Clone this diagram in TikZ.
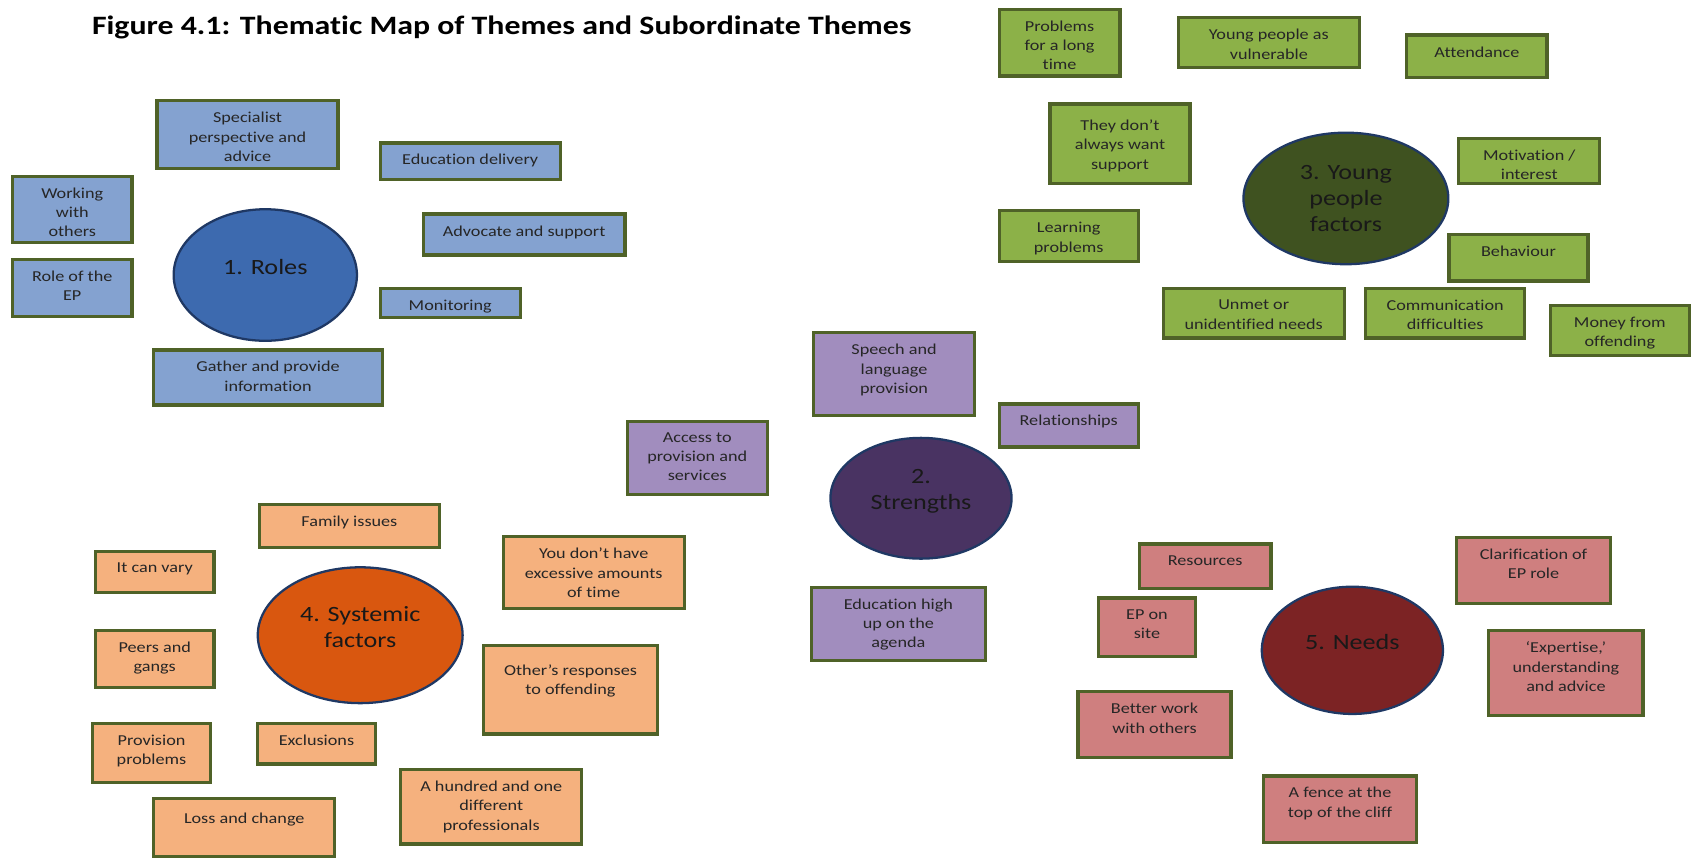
\documentclass[tikz,border=0pt]{standalone}
\usepackage{fontspec}
\setmainfont{Carlito}[FakeStretch=1.2, Ligatures=NoCommon]
\usetikzlibrary{shapes.geometric}

\definecolor{edge}{RGB}{79,98,40}
\definecolor{rim}{RGB}{31,56,100}
\definecolor{bluebox}{RGB}{132,162,208}
\definecolor{bluetheme}{RGB}{61,106,175}
\definecolor{greenbox}{RGB}{140,177,72}
\definecolor{greentheme}{RGB}{63,82,32}
\definecolor{purplebox}{RGB}{161,141,190}
\definecolor{purpletheme}{RGB}{73,51,98}
\definecolor{orangebox}{RGB}{245,177,126}
\definecolor{orangetheme}{RGB}{217,87,15}
\definecolor{redbox}{RGB}{207,127,127}
\definecolor{redtheme}{RGB}{124,35,36}

\tikzset{
  subbox/.style={draw=edge, line width=1.7pt, inner sep=0pt},
  sublbl/.style={anchor=north, align=center, inner sep=6.7pt, text=black!85, font=\fontsize{8}{10.2}\selectfont},
  theme/.style={ellipse, draw=rim, line width=1.2pt, inner sep=0pt, align=center, text=black!90, font=\fontsize{11.5}{13.9}\selectfont},
}

\begin{document}
\begin{tikzpicture}[x=0.02cm, y=-0.02cm]

	\useasboundingbox (0,0) rectangle (1568,796);

	\node[anchor=west, inner sep=0pt, font=\fontsize{14}{16}\selectfont\bfseries] (title) at (85,25) {Figure 4.1: Thematic Map of Themes and Subordinate Themes};

	% 1. Roles
	\node[theme, fill=bluetheme, minimum width=3.40cm, minimum height=2.44cm, text depth=9pt] (roles) at (246,255) {1. Roles};
	\node[subbox, fill=bluebox, minimum width=3.36cm, minimum height=1.26cm, label={[sublbl]north:{Specialist\\perspective and\\advice}}] (specialist) at (229.5,125) {};
	\node[subbox, fill=bluebox, minimum width=3.34cm, minimum height=0.68cm, label={[sublbl]north:{Education delivery}}] (edudelivery) at (436,149.5) {};
	\node[subbox, fill=bluebox, minimum width=2.22cm, minimum height=1.22cm, label={[sublbl]north:{Working\\with\\others}}] (working) at (67,194) {};
	\node[subbox, fill=bluebox, minimum width=3.74cm, minimum height=0.76cm, label={[sublbl]north:{Advocate and support}}] (advocate) at (486,217.5) {};
	\node[subbox, fill=bluebox, minimum width=2.22cm, minimum height=1.06cm, label={[sublbl]north:{Role of the\\EP}}] (roleep) at (67,267) {};
	\node[subbox, fill=bluebox, minimum width=2.60cm, minimum height=0.54cm, label={[sublbl]north:{Monitoring}}] (monitoring) at (417.5,281) {};
	\node[subbox, fill=bluebox, minimum width=4.24cm, minimum height=1.02cm, label={[sublbl]north:{Gather and provide\\information}}] (gather) at (248.5,350) {};

	% 3. Young people factors
	\node[theme, fill=greentheme, minimum width=3.80cm, minimum height=2.44cm] (young) at (1248,184) {3. Young\\people\\factors};
	\node[subbox, fill=greenbox, minimum width=2.24cm, minimum height=1.24cm, label={[sublbl]north:{Problems\\for a long\\time}}] (longtime) at (982.5,39.5) {};
	\node[subbox, fill=greenbox, minimum width=3.36cm, minimum height=0.92cm, label={[sublbl]north:{Young people as\\vulnerable}}] (vulnerable) at (1176.5,39.5) {};
	\node[subbox, fill=greenbox, minimum width=2.60cm, minimum height=0.78cm, label={[sublbl]north:{Attendance}}] (attendance) at (1369.5,52) {};
	\node[subbox, fill=greenbox, minimum width=2.60cm, minimum height=1.48cm, label={[sublbl, yshift=-2.3pt]north:{They don’t\\always want\\support}}] (dontwant) at (1038.5,133.5) {};
	\node[subbox, fill=greenbox, minimum width=2.62cm, minimum height=0.84cm, label={[sublbl]north:{Motivation /\\interest}}] (motivation) at (1418,149.5) {};
	\node[subbox, fill=greenbox, minimum width=2.58cm, minimum height=0.94cm, label={[sublbl]north:{Learning\\problems}}] (learning) at (991,219) {};
	\node[subbox, fill=greenbox, minimum width=2.58cm, minimum height=0.86cm, label={[sublbl]north:{Behaviour}}] (behaviour) at (1408,239) {};
	\node[subbox, fill=greenbox, minimum width=3.36cm, minimum height=0.92cm, label={[sublbl]north:{Unmet or\\unidentified needs}}] (unmet) at (1162.5,290.5) {};
	\node[subbox, fill=greenbox, minimum width=2.94cm, minimum height=0.92cm, label={[sublbl]north:{Communication\\difficulties}}] (communication) at (1340,290.5) {};
	\node[subbox, fill=greenbox, minimum width=2.58cm, minimum height=0.92cm, label={[sublbl]north:{Money from\\offending}}] (money) at (1502,306.5) {};

	% 2. Strengths
	\node[theme, fill=purpletheme, minimum width=3.36cm, minimum height=2.24cm, text depth=9.5pt] (strengths) at (854,462) {2.\\Strengths};
	\node[subbox, fill=purplebox, minimum width=2.98cm, minimum height=1.54cm, label={[sublbl]north:{Speech and\\language\\provision}}] (speech) at (829,347) {};
	\node[subbox, fill=purplebox, minimum width=2.58cm, minimum height=0.80cm, label={[sublbl]north:{Relationships}}] (relationships) at (991,394.5) {};
	\node[subbox, fill=purplebox, minimum width=2.60cm, minimum height=1.36cm, label={[sublbl]north:{Access to\\provision and\\services}}] (access) at (646.5,424.5) {};
	\node[subbox, fill=purplebox, minimum width=3.22cm, minimum height=1.36cm, label={[sublbl]north:{Education high\\up on the\\agenda}}] (eduhigh) at (833,578.5) {};

	% 4. Systemic factors
	\node[theme, fill=orangetheme, minimum width=3.80cm, minimum height=2.52cm, text depth=9pt] (systemic) at (334,589) {4. Systemic\\factors};
	\node[subbox, fill=orangebox, minimum width=3.34cm, minimum height=0.80cm, label={[sublbl]north:{Family issues}}] (family) at (324,487.5) {};
	\node[subbox, fill=orangebox, minimum width=2.20cm, minimum height=0.76cm, label={[sublbl]north:{It can vary}}] (canvary) at (143.5,530.5) {};
	\node[subbox, fill=orangebox, minimum width=3.36cm, minimum height=1.34cm, label={[sublbl]north:{You don’t have\\excessive amounts\\of time}}] (notime) at (550.5,531) {};
	\node[subbox, fill=orangebox, minimum width=2.20cm, minimum height=1.06cm, label={[sublbl]north:{Peers and\\gangs}}] (peers) at (143.5,611) {};
	\node[subbox, fill=orangebox, minimum width=3.22cm, minimum height=1.64cm, label={[sublbl, yshift=-4pt]north:{Other’s responses\\to offending}}] (responses) at (529,639.5) {};
	\node[subbox, fill=orangebox, minimum width=2.20cm, minimum height=1.10cm, label={[sublbl]north:{Provision\\problems}}] (provision) at (140.5,698) {};
	\node[subbox, fill=orangebox, minimum width=2.20cm, minimum height=0.76cm, label={[sublbl]north:{Exclusions}}] (exclusions) at (293.5,689.5) {};
	\node[subbox, fill=orangebox, minimum width=3.36cm, minimum height=1.08cm, label={[sublbl, yshift=-1.7pt]north:{Loss and change}}] (loss) at (226.5,767.5) {};
	\node[subbox, fill=orangebox, minimum width=3.36cm, minimum height=1.38cm, label={[sublbl]north:{A hundred and one\\different\\professionals}}] (hundred) at (455.5,748) {};

	% 5. Needs
	\node[theme, fill=redtheme, minimum width=3.36cm, minimum height=2.36cm, text depth=9pt] (needs) at (1254,603) {5. Needs};
	\node[subbox, fill=redbox, minimum width=2.44cm, minimum height=0.82cm, label={[sublbl]north:{Resources}}] (resources) at (1117.5,525) {};
	\node[subbox, fill=redbox, minimum width=2.86cm, minimum height=1.22cm, label={[sublbl]north:{Clarification of\\EP role}}] (clarification) at (1422,529) {};
	\node[subbox, fill=redbox, minimum width=1.80cm, minimum height=1.08cm, label={[sublbl]north:{EP on\\site}}] (onsite) at (1063.5,581.5) {};
	\node[subbox, fill=redbox, minimum width=2.86cm, minimum height=1.58cm, label={[sublbl]north:{‘Expertise,’\\understanding\\and advice}}] (expertise) at (1452,624) {};
	\node[subbox, fill=redbox, minimum width=2.84cm, minimum height=1.22cm, label={[sublbl]north:{Better work\\with others}}] (betterwork) at (1070.5,672) {};
	\node[subbox, fill=redbox, minimum width=2.84cm, minimum height=1.24cm, label={[sublbl]north:{A fence at the\\top of the cliff}}] (fence) at (1242.5,750.5) {};

\end{tikzpicture}
\end{document}
